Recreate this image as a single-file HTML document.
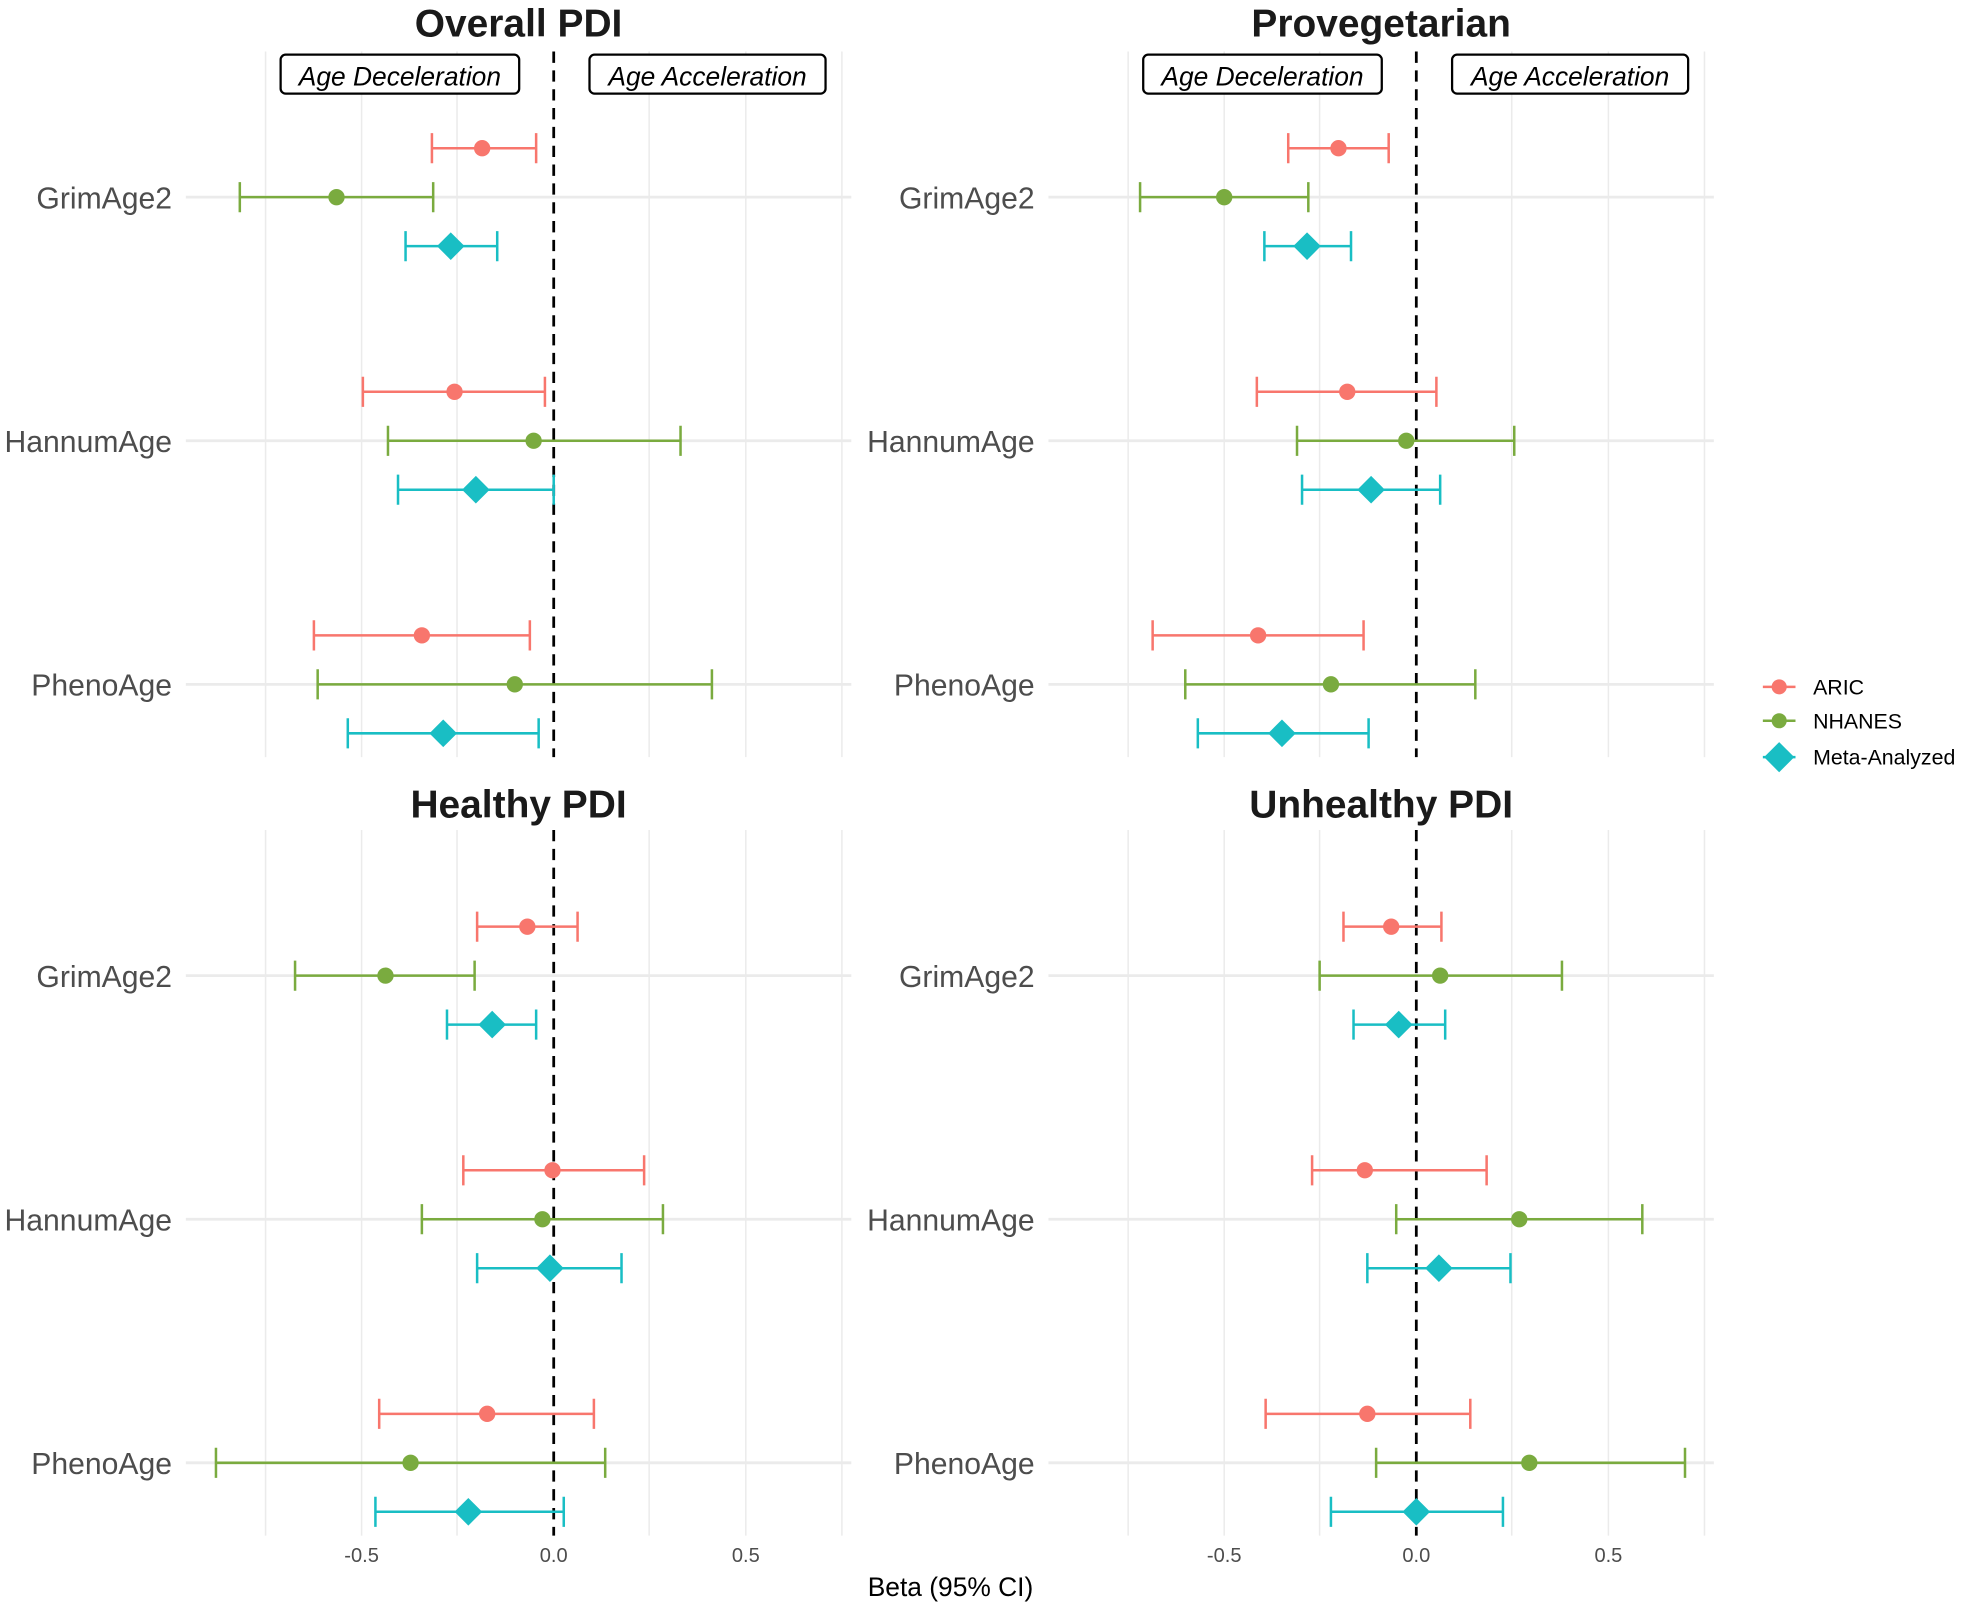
<!DOCTYPE html>
<html><head><meta charset="utf-8"><style>html,body{margin:0;padding:0;background:#fff}svg{display:block}</style></head>
<body>
<svg width="1965" height="1606" viewBox="0 0 1565 1279" xmlns="http://www.w3.org/2000/svg" font-family="Liberation Sans, sans-serif">
<defs>
<g id="grid">
<g stroke="#ebebeb" stroke-width="1.2">
<line x1="211.5" y1="41" x2="211.5" y2="603"/><line x1="288" y1="41" x2="288" y2="603"/><line x1="364" y1="41" x2="364" y2="603"/><line x1="517" y1="41" x2="517" y2="603"/><line x1="594" y1="41" x2="594" y2="603"/><line x1="670.5" y1="41" x2="670.5" y2="603"/>
</g>
<g stroke="#ebebeb" stroke-width="2.2">
<line x1="148" y1="157" x2="678" y2="157"/><line x1="148" y1="351" x2="678" y2="351"/><line x1="148" y1="545" x2="678" y2="545"/>
</g>
<line x1="441" y1="41" x2="441" y2="603" stroke="#000" stroke-width="2.2" stroke-dasharray="9,6"/>
<g font-size="24" fill="#4d4d4d" text-anchor="end"><text x="137" y="166">GrimAge2</text><text x="137" y="360">HannumAge</text><text x="137" y="554">PhenoAge</text></g>
</g>
<g id="boxes">
<rect x="223.5" y="43.5" width="190" height="31" rx="4" fill="#fff" stroke="#000" stroke-width="1.8"/>
<rect x="469.5" y="43.5" width="188" height="31" rx="4" fill="#fff" stroke="#000" stroke-width="1.8"/>
<g font-size="21" font-style="italic" fill="#000" text-anchor="middle"><text x="318.5" y="68">Age Deceleration</text><text x="563.5" y="68">Age Acceleration</text></g>
</g>
</defs>

<use href="#grid"/>
<use href="#grid" transform="translate(687,0)"/>
<use href="#grid" transform="translate(0,620)"/>
<use href="#grid" transform="translate(687,620)"/>
<use href="#boxes"/>
<use href="#boxes" transform="translate(687,0)"/>

<g font-size="31" font-weight="bold" fill="#1a1a1a" text-anchor="middle">
<text x="413" y="29">Overall PDI</text>
<text x="1100" y="29">Provegetarian</text>
<text x="413" y="651">Healthy PDI</text>
<text x="1100" y="651">Unhealthy PDI</text>
</g>

<g stroke-width="2" fill="none">
<g stroke="#F8766D"><path d="M344 118H427M344 106V130M427 106V130"/><path d="M289 312H434M289 300V324M434 300V324"/><path d="M250 506H422M250 494V518M422 494V518"/></g>
<g stroke="#7aab3f"><path d="M191 157H345M191 145V169M345 145V169"/><path d="M309 351H542M309 339V363M542 339V363"/><path d="M253 545H567M253 533V557M567 533V557"/></g>
<g stroke="#19BEC4"><path d="M323 196H396M323 184V208M396 184V208"/><path d="M317 390H441M317 378V402M441 378V402"/><path d="M277 584H429M277 572V596M429 572V596"/></g>
<g stroke="#F8766D"><path d="M1026 118H1106M1026 106V130M1106 106V130"/><path d="M1001 312H1144M1001 300V324M1144 300V324"/><path d="M918 506H1086M918 494V518M1086 494V518"/></g>
<g stroke="#7aab3f"><path d="M908 157H1042M908 145V169M1042 145V169"/><path d="M1033 351H1206M1033 339V363M1206 339V363"/><path d="M944 545H1175M944 533V557M1175 533V557"/></g>
<g stroke="#19BEC4"><path d="M1007 196H1076M1007 184V208M1076 184V208"/><path d="M1037 390H1147M1037 378V402M1147 378V402"/><path d="M954 584H1090M954 572V596M1090 572V596"/></g>
<g stroke="#F8766D"><path d="M380 738H460M380 726V750M460 726V750"/><path d="M369 932H513M369 920V944M513 920V944"/><path d="M302 1126H473M302 1114V1138M473 1114V1138"/></g>
<g stroke="#7aab3f"><path d="M235 777H378M235 765V789M378 765V789"/><path d="M336 971H528M336 959V983M528 959V983"/><path d="M172 1165H482M172 1153V1177M482 1153V1177"/></g>
<g stroke="#19BEC4"><path d="M356 816H427M356 804V828M427 804V828"/><path d="M380 1010H495M380 998V1022M495 998V1022"/><path d="M299 1204H449M299 1192V1216M449 1192V1216"/></g>
<g stroke="#F8766D"><path d="M1070 738H1148M1070 726V750M1148 726V750"/><path d="M1045 932H1184M1045 920V944M1184 920V944"/><path d="M1008 1126H1171M1008 1114V1138M1171 1114V1138"/></g>
<g stroke="#7aab3f"><path d="M1051 777H1244M1051 765V789M1244 765V789"/><path d="M1112 971H1308M1112 959V983M1308 959V983"/><path d="M1096 1165H1342M1096 1153V1177M1342 1153V1177"/></g>
<g stroke="#19BEC4"><path d="M1078 816H1151M1078 804V828M1151 804V828"/><path d="M1089 1010H1203M1089 998V1022M1203 998V1022"/><path d="M1060 1204H1197M1060 1192V1216M1197 1192V1216"/></g>
</g>

<g fill="#F8766D">
<circle cx="384" cy="118" r="6.5"/><circle cx="362" cy="312" r="6.5"/><circle cx="336" cy="506" r="6.5"/>
<circle cx="1066" cy="118" r="6.5"/><circle cx="1073" cy="312" r="6.5"/><circle cx="1002" cy="506" r="6.5"/>
<circle cx="420" cy="738" r="6.5"/><circle cx="440" cy="932" r="6.5"/><circle cx="388" cy="1126" r="6.5"/>
<circle cx="1108" cy="738" r="6.5"/><circle cx="1087" cy="932" r="6.5"/><circle cx="1089" cy="1126" r="6.5"/>
</g>
<g fill="#7aab3f">
<circle cx="268" cy="157" r="6.5"/><circle cx="425" cy="351" r="6.5"/><circle cx="410" cy="545" r="6.5"/>
<circle cx="975" cy="157" r="6.5"/><circle cx="1120" cy="351" r="6.5"/><circle cx="1060" cy="545" r="6.5"/>
<circle cx="307" cy="777" r="6.5"/><circle cx="432" cy="971" r="6.5"/><circle cx="327" cy="1165" r="6.5"/>
<circle cx="1147" cy="777" r="6.5"/><circle cx="1210" cy="971" r="6.5"/><circle cx="1218" cy="1165" r="6.5"/>
</g>
<g fill="#19BEC4">
<path d="M359 185L370 196L359 207L348 196Z"/><path d="M379 379L390 390L379 401L368 390Z"/><path d="M353 573L364 584L353 595L342 584Z"/>
<path d="M1041 185L1052 196L1041 207L1030 196Z"/><path d="M1092 379L1103 390L1092 401L1081 390Z"/><path d="M1021 573L1032 584L1021 595L1010 584Z"/>
<path d="M392 805L403 816L392 827L381 816Z"/><path d="M438 999L449 1010L438 1021L427 1010Z"/><path d="M373 1193L384 1204L373 1215L362 1204Z"/>
<path d="M1114 805L1125 816L1114 827L1103 816Z"/><path d="M1146 999L1157 1010L1146 1021L1135 1010Z"/><path d="M1128 1193L1139 1204L1128 1215L1117 1204Z"/>
</g>

<g font-size="16" fill="#4d4d4d" text-anchor="middle">
<text x="288" y="1244">-0.5</text><text x="441" y="1244">0.0</text><text x="594" y="1244">0.5</text>
<text x="975" y="1244">-0.5</text><text x="1128" y="1244">0.0</text><text x="1281" y="1244">0.5</text>
</g>
<text x="757" y="1271" font-size="21" fill="#000" text-anchor="middle">Beta (95% CI)</text>

<g stroke-width="2">
<line x1="1404" y1="547" x2="1430" y2="547" stroke="#F8766D"/><circle cx="1417" cy="547" r="6" fill="#F8766D"/>
<line x1="1404" y1="574" x2="1430" y2="574" stroke="#7aab3f"/><circle cx="1417" cy="574" r="6" fill="#7aab3f"/>
<line x1="1404" y1="603" x2="1430" y2="603" stroke="#19BEC4"/><path d="M1417 591L1429 603L1417 615L1405 603Z" fill="#19BEC4"/>
</g>
<g font-size="17" fill="#000"><text x="1444" y="553">ARIC</text><text x="1444" y="580">NHANES</text><text x="1444" y="609">Meta-Analyzed</text></g>
</svg>
</body></html>
